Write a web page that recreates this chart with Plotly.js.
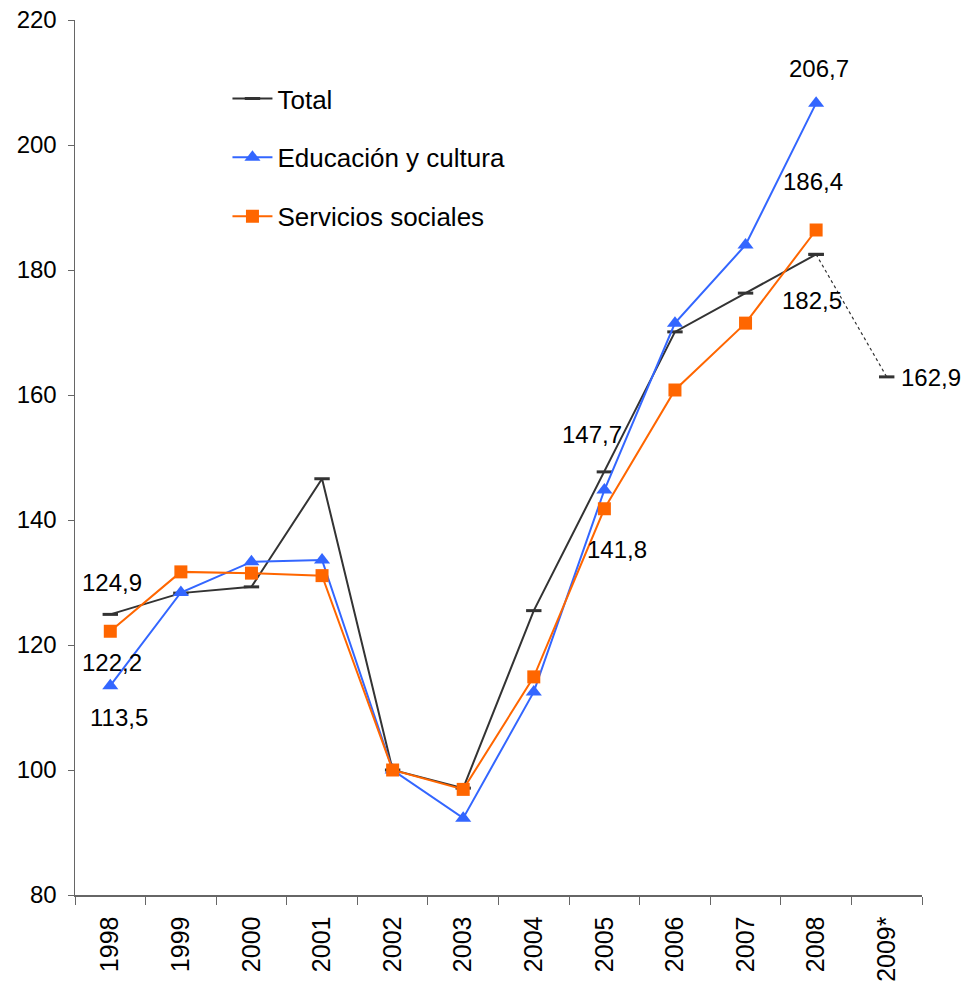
<!DOCTYPE html>
<html>
<head>
<meta charset="utf-8">
<script src="https://cdn.plot.ly/plotly-3.0.1.min.js"></script>
<style>html,body{margin:0;padding:0;background:#fff;}#chart{width:970px;height:988px;}</style>
</head>
<body>
<div id="chart"></div>
<script>
const years = ['1998','1999','2000','2001','2002','2003','2004','2005','2006','2007','2008','2009*'];
const total = [124.9,128.3,129.3,146.6,100.0,97.1,125.5,147.7,170.1,176.3,182.5,null];
const totalProjection = [null,null,null,null,null,null,null,null,null,null,182.5,162.9];
const educacion = [113.5,128.4,133.3,133.6,100.0,92.3,112.5,144.8,171.5,184.0,206.7,null];
const servicios = [122.2,131.7,131.5,131.1,100.0,96.9,114.9,141.8,160.8,171.5,186.4,null];
const seriesNames = ['Total','Educación y cultura','Servicios sociales'];

const cTotal = '#333333', cEdu = '#3366FF', cServ = '#FF6600';
const FONT = 'Liberation Sans, Arial, sans-serif';

const traces = [
  {x: years, y: total, name: seriesNames[0], mode: 'lines+markers', legendgroup:'a',
   line: {color: cTotal, width: 2},
   marker: {symbol: 'line-ew', size: 11, color: cTotal, line: {color: cTotal, width: 3}}},
  {x: years, y: educacion, name: seriesNames[1], mode: 'lines+markers', legendgroup:'b',
   line: {color: cEdu, width: 2},
   marker: {symbol: 'triangle-up', size: 14, color: cEdu}},
  {x: years, y: servicios, name: seriesNames[2], mode: 'lines+markers', legendgroup:'c',
   line: {color: cServ, width: 2},
   marker: {symbol: 'square', size: 13, color: cServ}},
  {x: years, y: totalProjection, showlegend: false, mode: 'lines+markers', hoverinfo:'skip', legendgroup:'d',
   line: {color: cTotal, width: 1.2, dash: 'dot'},
   marker: {symbol: 'line-ew', size: 11, color: cTotal, line: {color: cTotal, width: 3}}}
];

function fmt(v){ return v.toFixed(1).replace('.', ','); }

// [series array, category index, xshift, yshift, xanchor]
const labelSpecs = [
  [total, 0, 2, 32, 'center'],
  [servicios, 0, 2, -31, 'center'],
  [educacion, 0, 9, -32, 'center'],
  [total, 7, -12, 37, 'center'],
  [servicios, 7, 13, -41, 'center'],
  [educacion, 10, 3, 35, 'center'],
  [servicios, 10, -3, 49, 'center'],
  [total, 10, -4, -46, 'center'],
  [totalProjection, 11, 12, -1, 'left']
];
const annotations = labelSpecs.map(s => ({
  x: s[1], y: s[0][s[1]], xref: 'x', yref: 'y', text: fmt(s[0][s[1]]),
  showarrow: false, xshift: s[2], yshift: s[3], xanchor: s[4], yanchor: 'middle',
  font: {family: FONT, size: 24, color: '#000'}
}));

const layout = {
  width: 970, height: 988,
  margin: {l: 75, r: 48, t: 20, b: 93},
  paper_bgcolor: '#fff', plot_bgcolor: '#fff',
  font: {family: FONT, color: '#000'},
  showlegend: true,
  legend: {x: 0.18, y: 0.937, xanchor: 'left', yanchor: 'top', bgcolor: 'rgba(0,0,0,0)',
    font: {family: FONT, size: 26, color: '#000'}, tracegroupgap: 22, itemwidth: 40, traceorder: 'grouped'},
  xaxis: {type: 'category', showgrid: false, zeroline: false, showline: true, linecolor: '#666', linewidth: 1.5,
    ticks: 'outside', tickson: 'boundaries', ticklen: 8, tickcolor: '#666', tickwidth: 1,
    ticklabelstandoff: 10,
    tickangle: -90, tickfont: {family: FONT, size: 25, color: '#000'}, range: [-0.5, 11.5], fixedrange: true},
  yaxis: {range: [80, 220], dtick: 20, tick0: 80, showgrid: false, zeroline: false, showline: true,
    linecolor: '#666', linewidth: 1.5, ticks: 'outside', ticklen: 6, tickcolor: '#666',
    ticklabelstandoff: 6,
    tickfont: {family: FONT, size: 24, color: '#000'}, fixedrange: true},
  annotations: annotations
};

Plotly.newPlot('chart', traces, layout, {displayModeBar: false, staticPlot: true});
</script>
</body>
</html>
